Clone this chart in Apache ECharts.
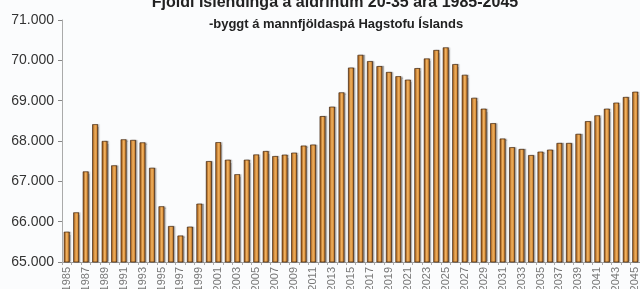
<!DOCTYPE html>
<html>
<head>
<meta charset="utf-8">
<script src="https://cdn.jsdelivr.net/npm/echarts@6/dist/echarts.min.js"></script>
<style>
  html, body { margin: 0; padding: 0; background: #fbfcfd; }
  #chart { width: 640px; height: 289px; }
</style>
</head>
<body>
<div id="chart"></div>
<script>
// ár 1985-2045
var years = [];
for (var y = 1985; y <= 2045; y++) years.push(String(y));

// fjöldi 20-35 ára (lesið af myndinni)
var fjoldi = [
  65750, 66230, 67245, 68415, 68000, 67395, 68040, 68025, 67965, 67335,
  66380, 65890, 65655, 65875, 66445, 67500, 67970, 67535, 67175, 67535,
  67665, 67750, 67625, 67660, 67710, 67885, 67910, 68615, 68850, 69205,
  69820, 70135, 69980, 69855, 69710, 69605, 69520, 69805, 70045, 70255,
  70320, 69905, 69640, 69070, 68800, 68440, 68060, 67845, 67800, 67650,
  67735, 67785, 67950, 67950, 68175, 68490, 68635, 68800, 68950, 69090,
  69220
];

var yMin = 65000, yMax = 71000, yStep = 1000;

var chart = echarts.init(document.getElementById('chart'));

var option = {
  backgroundColor: '#fbfcfd',
  animation: false,
  title: [{
    text: 'Fjöldi Íslendinga á aldrinum 20-35 ára 1985-2045',
    left: 330,
    textAlign: 'center',
    top: -10,
    textStyle: { fontFamily: 'Liberation Sans', fontSize: 16, fontWeight: 'bold', color: '#222' }
  }, {
    text: '-byggt á mannfjöldaspá Hagstofu Íslands',
    left: 331,
    textAlign: 'center',
    top: 13,
    textStyle: { fontFamily: 'Liberation Sans', fontSize: 13, fontWeight: 'bold', color: '#222' }
  }],
  grid: {
    left: 62,
    right: 0,
    top: 20,
    bottom: 27,
    containLabel: false,
    outerBoundsMode: 'none'
  },
  xAxis: {
    type: 'category',
    data: years,
    axisLine: { lineStyle: { color: '#999' } },
    axisTick: { show: true, interval: 0, length: 3, lineStyle: { color: '#aaa' } },
    axisLabel: {
      interval: 1,
      rotate: 90,
      margin: 5,
      fontFamily: 'Liberation Sans',
      fontSize: 11,
      color: '#777'
    }
  },
  yAxis: {
    type: 'value',
    min: yMin,
    max: yMax,
    interval: yStep,
    axisLine: { show: true, lineStyle: { color: '#aaa' } },
    axisTick: { show: true, length: 4, lineStyle: { color: '#888' } },
    splitLine: { show: false },
    axisLabel: {
      margin: 8,
      fontFamily: 'Liberation Sans',
      fontSize: 14,
      color: '#333',
      formatter: function (v) {
        return String(v).replace(/\B(?=(\d{3})+(?!\d))/g, '.');
      }
    }
  },
  series: [{
    type: 'bar',
    data: fjoldi,
    barWidth: '62%',
    itemStyle: {
      color: new echarts.graphic.LinearGradient(0, 0, 1, 0, [
        { offset: 0, color: '#4a2608' },
        { offset: 0.18, color: '#c27628' },
        { offset: 0.45, color: '#f6b663' },
        { offset: 0.72, color: '#df9640' },
        { offset: 1, color: '#5a3010' }
      ]),
      borderColor: '#3a1e06',
      borderWidth: 0.6,
      shadowColor: 'rgba(0,0,0,0.25)',
      shadowOffsetX: 1.5,
      shadowOffsetY: 0,
      shadowBlur: 1
    }
  }]
};

chart.setOption(option);
</script>
</body>
</html>
